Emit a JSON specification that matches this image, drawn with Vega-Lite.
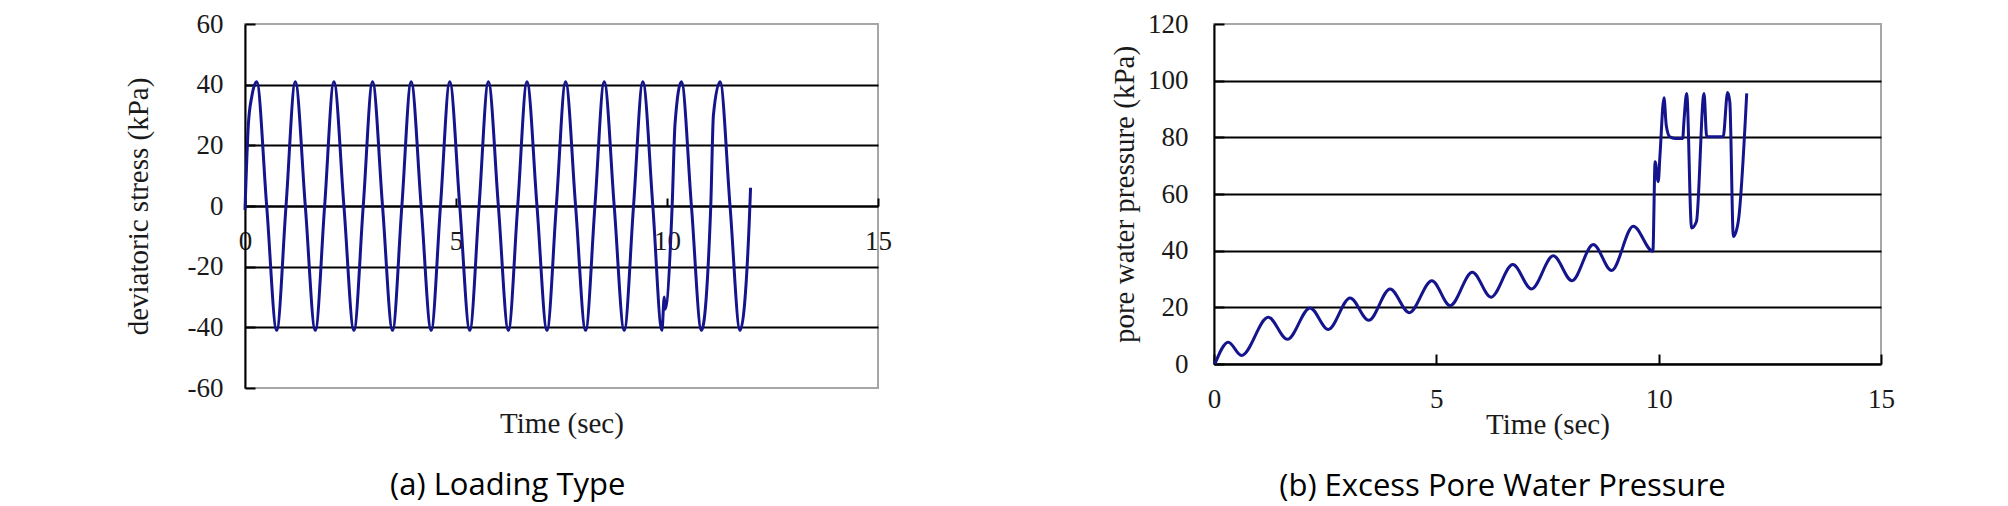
{
  "$schema": "https://vega.github.io/schema/vega-lite/v6.json",
  "padding": {"left": 123, "top": 9, "right": 0, "bottom": 5},
  "background": "white",
  "bounds": "flush",
  "spacing": 336,
  "config": {
    "view": {"stroke": "#a6a6a6", "strokeWidth": 2},
    "axis": {
      "labelFont": "Liberation Serif",
      "labelFontSize": 27,
      "labelColor": "#1a1a1a",
      "labelExpr": "'' + datum.value",
      "titleFont": "Liberation Serif",
      "titleFontSize": 29,
      "titleFontWeight": "normal",
      "titleColor": "#1a1a1a",
      "domainColor": "black",
      "domainWidth": 2,
      "tickColor": "black",
      "tickWidth": 2,
      "labelFlush": false,
      "labelOverlap": false,
      "labelBound": false
    },
    "title": {"font": "Open Sans", "fontSize": 31, "fontWeight": "normal", "color": "black", "frame": "bounds"}
  },
  "hconcat": [
    {
      "title": {"text": "(a) Loading Type", "orient": "bottom", "anchor": "middle", "frame": "bounds", "offset": 33},
      "width": 633,
      "height": 364,
      "data": {"values": [
        {"t":0,"v":-1.3},{"t":0.08,"v":27},{"t":0.16,"v":36},{"t":0.277,"v":41},{"t":0.514,"v":0},{"t":0.751,"v":-41},{"t":0.972,"v":0},
        {"t":1.192,"v":41},{"t":1.429,"v":0},{"t":1.666,"v":-41},{"t":1.887,"v":0},
        {"t":2.107,"v":41},{"t":2.344,"v":0},{"t":2.581,"v":-41},{"t":2.802,"v":0},
        {"t":3.022,"v":41},{"t":3.259,"v":0},{"t":3.496,"v":-41},{"t":3.717,"v":0},
        {"t":3.937,"v":41},{"t":4.174,"v":0},{"t":4.411,"v":-41},{"t":4.632,"v":0},
        {"t":4.852,"v":41},{"t":5.089,"v":0},{"t":5.326,"v":-41},{"t":5.547,"v":0},
        {"t":5.767,"v":41},{"t":6.004,"v":0},{"t":6.241,"v":-41},{"t":6.462,"v":0},
        {"t":6.682,"v":41},{"t":6.919,"v":0},{"t":7.156,"v":-41},{"t":7.377,"v":0},
        {"t":7.597,"v":41},{"t":7.834,"v":0},{"t":8.071,"v":-41},{"t":8.292,"v":0},
        {"t":8.512,"v":41},{"t":8.749,"v":0},{"t":8.986,"v":-41},{"t":9.207,"v":0},
        {"t":9.427,"v":41},{"t":9.664,"v":0},{"t":9.88,"v":-41},{"t":9.935,"v":-30},{"t":9.955,"v":-34},{"t":10.122,"v":0},
        {"t":10.19,"v":27},{"t":10.342,"v":41},{"t":10.579,"v":0},{"t":10.816,"v":-41},{"t":11.037,"v":0},
        {"t":11.1,"v":30},{"t":11.257,"v":41},{"t":11.494,"v":0},{"t":11.731,"v":-41},{"t":11.95,"v":-5},{"t":11.98,"v":6}
      ]},
      "mark": {"type": "line", "interpolate": "monotone", "color": "#14148c", "strokeWidth": 3},
      "encoding": {
        "x": {"field": "t", "type": "quantitative", "scale": {"domain": [0, 15], "nice": false, "zero": false},
          "axis": {"values": [0, 5, 10, 15], "offset": -182, "tickSize": -8, "labelPadding": 30, "grid": false, "title": "Time (sec)", "titlePadding": 155}},
        "y": {"field": "v", "type": "quantitative", "scale": {"domain": [-60, 60], "nice": false},
          "axis": {"values": [-60, -40, -20, 0, 20, 40, 60], "tickSize": -10, "labelPadding": 32, "title": "deviatoric stress (kPa)", "titlePadding": 34,
            "grid": true, "gridWidth": 2, "gridColor": {"condition": {"test": "abs(datum.value) == 60", "value": "transparent"}, "value": "black"}}}
      }
    },
    {
      "title": {"text": "(b) Excess Pore Water Pressure", "orient": "bottom", "anchor": "middle", "frame": "bounds", "offset": 33},
      "width": 667,
      "height": 340,
      "data": {"values": [
        {"t":0.02,"v":0},{"t":0.32,"v":7.7},{"t":0.62,"v":3.0},{"t":1.22,"v":16.5},{"t":1.65,"v":8.7},{"t":2.16,"v":19.8},{"t":2.57,"v":12.2},
        {"t":3.06,"v":23.3},{"t":3.48,"v":15.4},{"t":3.96,"v":26.5},{"t":4.39,"v":18.1},{"t":4.9,"v":29.4},{"t":5.31,"v":20.6},
        {"t":5.81,"v":32.4},{"t":6.23,"v":23.6},{"t":6.72,"v":35.1},{"t":7.14,"v":26.5},{"t":7.63,"v":38.2},{"t":8.05,"v":29.4},
        {"t":8.53,"v":42.2},{"t":8.94,"v":33.0},{"t":9.43,"v":48.6},{"t":9.87,"v":39.8},{"t":9.92,"v":71.4},{"t":9.99,"v":64.4},
        {"t":10.03,"v":73.8},{"t":10.12,"v":94},{"t":10.17,"v":84.3},{"t":10.25,"v":80.2},{"t":10.37,"v":79.6},{"t":10.54,"v":79.6},
        {"t":10.57,"v":86},{"t":10.63,"v":95.5},{"t":10.74,"v":48},{"t":10.85,"v":50.3},{"t":11.02,"v":95.5},{"t":11.08,"v":80.2},
        {"t":11.45,"v":80.2},{"t":11.55,"v":95.8},{"t":11.6,"v":92.5},{"t":11.68,"v":45},{"t":11.79,"v":50.3},{"t":11.98,"v":95.5}
      ]},
      "mark": {"type": "line", "interpolate": "monotone", "color": "#14148c", "strokeWidth": 3},
      "encoding": {
        "x": {"field": "t", "type": "quantitative", "scale": {"domain": [0, 15], "nice": false, "zero": false},
          "axis": {"values": [0, 5, 10, 15], "tickSize": -10, "labelPadding": 32, "grid": false, "title": "Time (sec)", "titlePadding": -2}},
        "y": {"field": "v", "type": "quantitative", "scale": {"domain": [0, 120], "nice": false},
          "axis": {"values": [0, 20, 40, 60, 80, 100, 120], "tickSize": -10, "labelPadding": 36, "title": "pore water pressure (kPa)", "titlePadding": 8,
            "grid": true, "gridWidth": 2, "gridColor": {"condition": {"test": "datum.value == 120", "value": "transparent"}, "value": "black"}}}
      }
    }
  ]
}
